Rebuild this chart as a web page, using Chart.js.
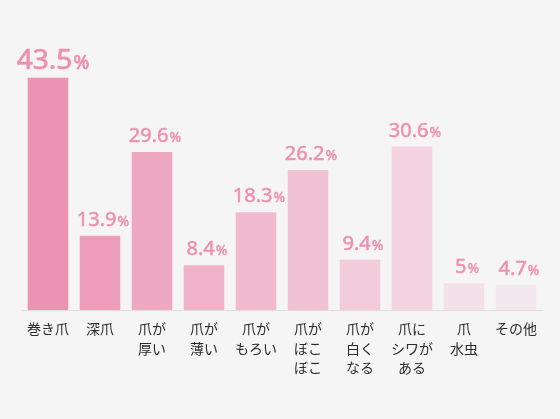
<!DOCTYPE html>
<html>
<head>
<meta charset="utf-8">
<script src="https://cdn.jsdelivr.net/npm/chart.js@4/dist/chart.umd.min.js"></script>
<style>
  html, body { margin: 0; padding: 0; background: #f5f5f5; }
  #wrap { width: 560px; height: 419px; }
</style>
</head>
<body>
<div id="wrap"><canvas id="chart" width="560" height="419"></canvas></div>
<script>
// データ
const etiquetes = [
    ["巻き爪"],
    ["深爪"],
    ["爪が", "厚い"],
    ["爪が", "薄い"],
    ["爪が", "もろい"],
    ["爪が", "ぼこ", "ぼこ"],
    ["爪が", "白く", "なる"],
    ["爪に", "シワが", "ある"],
    ["爪", "水虫"],
    ["その他"]
];
const valors = [43.5, 13.9, 29.6, 8.4, 18.3, 26.2, 9.4, 30.6, 5, 4.7];
const colors = [
    "#ec93b3", "#ee9dba", "#eea8c2", "#f0b2c9", "#f1bace",
    "#f1c2d3", "#f2ccda", "#f3d4e0", "#f3e0e8", "#f3e8ed"
];

const rosaText = "#ee8fb0";

// etiquetes de valor amb "%" més petit
const valorsPlugin = {
    id: "valors",
    afterDatasetsDraw(chart) {
        const ctx = chart.ctx;
        const meta = chart.getDatasetMeta(0);
        ctx.save();
        ctx.fillStyle = rosaText;
        ctx.strokeStyle = rosaText;
        ctx.textBaseline = "alphabetic";
        meta.data.forEach((bar, i) => {
            const gran = i === 0;
            const numFont = gran ? "28px 'Noto Sans'" : "20px 'Noto Sans'";
            const pctFont = gran ? "19px 'Noto Sans'" : "14px 'Noto Sans'";
            const num = String(valors[i]);
            ctx.font = numFont;
            const wNum = ctx.measureText(num).width;
            ctx.font = pctFont;
            const wPct = ctx.measureText("%").width + 1;
            const x0 = bar.x - (wNum + wPct) / 2 + (gran ? 5 : 3);
            const y = bar.y - (gran ? 9 : 10);
            ctx.lineWidth = gran ? 0.7 : 0.5;
            ctx.font = numFont;
            ctx.textAlign = "left";
            ctx.fillText(num, x0, y);
            ctx.strokeText(num, x0, y);
            ctx.font = pctFont;
            ctx.fillText("%", x0 + wNum + 1, y);
            ctx.strokeText("%", x0 + wNum + 1, y);
        });
        ctx.restore();
    }
};

const ctx = document.getElementById("chart");
const myChart = new Chart(ctx, {
    type: "bar",
    data: {
        labels: etiquetes,
        datasets: [{
            data: valors,
            backgroundColor: colors,
            borderWidth: 0,
            barPercentage: 0.78,
            categoryPercentage: 1
        }]
    },
    options: {
        responsive: false,
        animation: false,
        layout: { padding: { left: 22, right: 18, top: 43, bottom: 0 } },
        plugins: {
            legend: { display: false },
            tooltip: { enabled: false }
        },
        scales: {
            x: {
                grid: { display: false, drawTicks: false },
                border: { display: true, color: "#dddddd", width: 1 },
                ticks: {
                    color: "#2b2b2b",
                    padding: 9,
                    maxRotation: 0,
                    autoSkip: false,
                    font: { family: "'Noto Sans CJK JP'", size: 14, lineHeight: 1.4 }
                },
                afterFit(scale) { scale.height = 109; }
            },
            y: {
                display: false,
                min: 0,
                max: 50
            }
        }
    },
    plugins: [valorsPlugin]
});
</script>
</body>
</html>
